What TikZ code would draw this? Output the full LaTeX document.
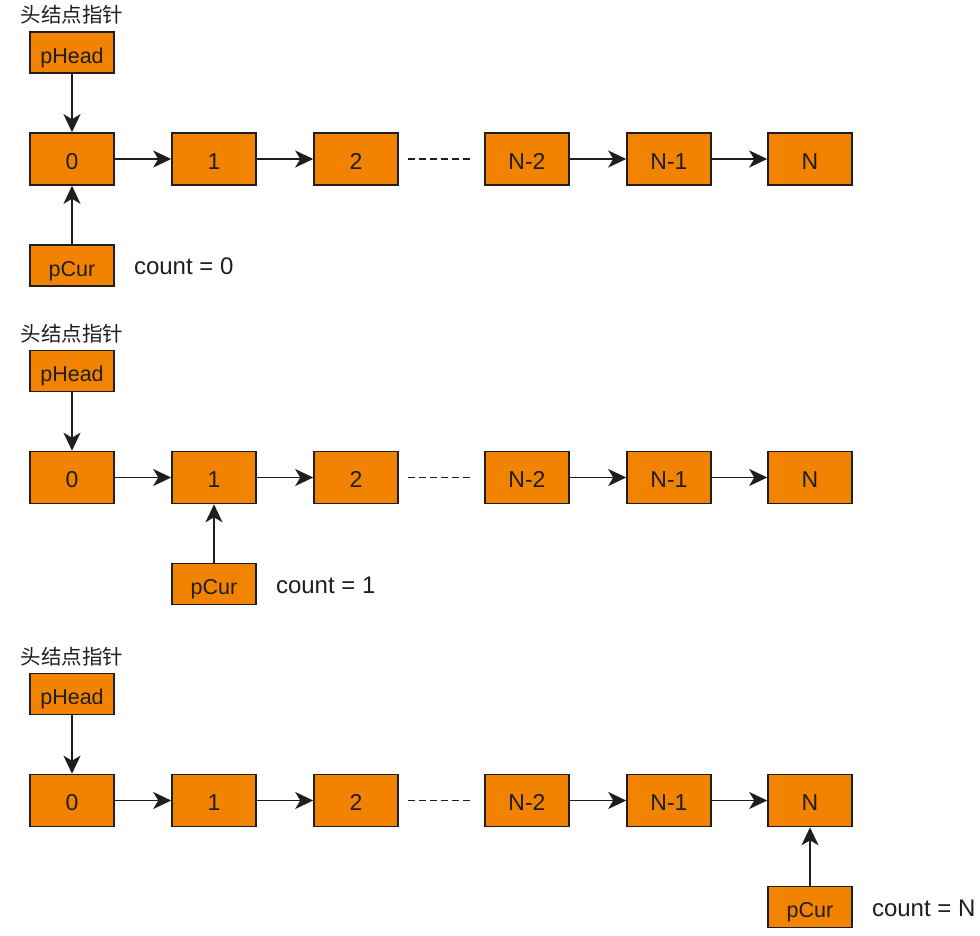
\documentclass[tikz,border=0pt]{standalone}
\usepackage{fontspec}
\setmainfont{Liberation Sans}
\newfontfamily\cjkfont{Noto Sans CJK SC}
\usetikzlibrary{arrows.meta}
\definecolor{boxorange}{RGB}{241,131,0}
\definecolor{ink}{RGB}{30,30,30}
\tikzset{
  listbox/.style={draw=ink, line width=1.6pt, fill=boxorange, minimum width=84pt, minimum height=52pt, inner sep=0pt, font=\fontsize{23}{26}\selectfont, text=ink, text height=20.5pt, text depth=0pt},
  ptrbox/.style={draw=ink, line width=1.6pt, fill=boxorange, minimum width=84pt, minimum height=41pt, inner sep=0pt, font=\fontsize{21.5}{24}\selectfont, text=ink, text height=21.5pt, text depth=0pt},
  link/.style={draw=ink, line width=1.8pt, -{Stealth[length=18pt,width=17pt,inset=5pt]}},
  dots/.style={draw=ink, line width=1.8pt, dash pattern=on 7pt off 4pt},
  cnt/.style={anchor=west, font=\fontsize{24}{27}\selectfont, text=ink, inner sep=0pt},
  headlabel/.style={font=\cjkfont\fontsize{20.5}{23}\selectfont, text=ink, inner sep=0pt}
}
\begin{document}
\begin{tikzpicture}[x=1pt,y=-1pt]
\useasboundingbox (0,0) rectangle (980,936);
\foreach \r/\cy/\px/\pn/\cv in {1/159/72/0/0, 2/477.5/214/1/1, 3/800.5/810/5/N} {
  \node[headlabel] (lab\r) at (72,\cy-144) {头结点指针};
  \node[ptrbox] (ph\r) at (72,\cy-106.5) {pHead};
  \node[listbox] (n\r-0) at (72,\cy) {0};
  \node[listbox] (n\r-1) at (214,\cy) {1};
  \node[listbox] (n\r-2) at (356,\cy) {2};
  \node[listbox] (n\r-3) at (527,\cy) {N-2};
  \node[listbox] (n\r-4) at (669,\cy) {N-1};
  \node[listbox] (n\r-5) at (810,\cy) {N};
  \node[ptrbox] (pc\r) at (\px,\cy+106.5) {pCur};
  \node[cnt] (c\r) at ([xshift=19pt,yshift=-1pt]pc\r.east) {count = \cv};
  \draw[link] (ph\r) -- (n\r-0);
  \draw[link] (n\r-0) -- (n\r-1);
  \draw[link] (n\r-1) -- (n\r-2);
  \draw[dots] ([xshift=9pt]n\r-2.east) -- ([xshift=-12pt]n\r-3.west);
  \draw[link] (n\r-3) -- (n\r-4);
  \draw[link] (n\r-4) -- (n\r-5);
  \draw[link] (pc\r) -- (n\r-\pn);
}
\end{tikzpicture}
\end{document}
